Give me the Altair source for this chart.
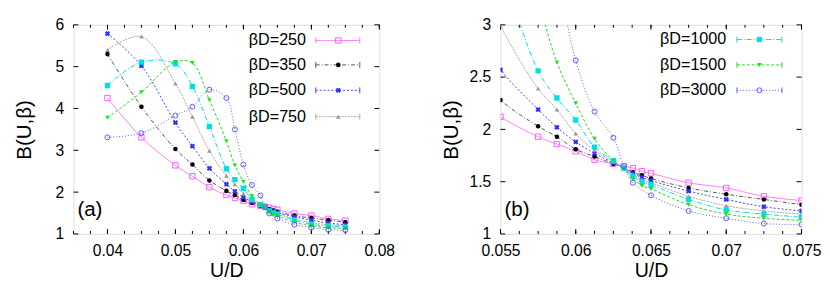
import altair as alt
import pandas as pd

# ---------------- data ----------------
U = [0.04, 0.045, 0.05, 0.0525, 0.055, 0.0575, 0.05875, 0.06, 0.06125, 0.0625,
     0.0632, 0.0638, 0.0644, 0.065, 0.0675, 0.07, 0.0725, 0.075]

LABELS = ["βD=250", "βD=350", "βD=500", "βD=750", "βD=1000", "βD=1500", "βD=3000"]

B250 = [4.25, 3.31, 2.64, 2.38, 2.12, 1.93, 1.86, 1.79, 1.71, 1.67,
        1.65, 1.63, 1.60, 1.58, 1.49, 1.44, 1.36, 1.32]
B350 = [5.30, 4.04, 3.03, 2.66, 2.28, 2.03, 1.93, 1.81, 1.74, 1.67,
        1.63, 1.59, 1.56, 1.53, 1.44, 1.38, 1.33, 1.28]
B500 = [5.79, 5.02, 3.66, 3.10, 2.57, 2.19, 2.02, 1.88, 1.77, 1.68,
        1.63, 1.58, 1.54, 1.51, 1.41, 1.33, 1.26, 1.22]
B750 = [5.40, 5.72, 4.60, 3.80, 2.99, 2.39, 2.19, 1.96, 1.80, 1.69,
        1.63, 1.57, 1.52, 1.49, 1.36, 1.27, 1.22, 1.19]
B1000 = [4.55, 5.11, 5.07, 4.53, 3.57, 2.56, 2.30, 2.09, 1.83, 1.70,
         1.63, 1.55, 1.50, 1.47, 1.33, 1.23, 1.19, 1.16]
B1500 = [3.78, 4.39, 5.11, 5.09, 4.20, 3.22, 2.64, 2.25, 1.91, 1.70,
         1.62, 1.53, 1.46, 1.43, 1.28, 1.19, 1.15, 1.13]
B3000 = [3.31, 3.41, 3.83, 4.04, 4.45, 4.25, 3.50, 2.66, 2.17, 1.92,
         1.65, 1.49, None, 1.37, 1.22, 1.15, 1.10, 1.09]

SERIES = [B250, B350, B500, B750, B1000, B1500, B3000]

# tick labels
XA_MAJOR = [0.04, 0.05, 0.06, 0.07, 0.08]
XB_MAJOR = [0.055, 0.06, 0.065, 0.07, 0.075]
YA_MAJOR = [1, 2, 3, 4, 5, 6]
YB_MAJOR = [1, 1.5, 2, 2.5, 3]

# ---------------- styles ----------------
COLORS = ["#ff5cff", "#000000", "#3030ff", "#9a9a9a", "#00e0e0", "#22dd22", "#5a5aff"]
LINECOL = ["#ff70ff", "#555555", "#4040ff", "#a8a8a8", "#00dede", "#22dd22", "#5a5aff"]
DASHES = [[1, 0], [4, 2, 1, 2], [2, 2], [2, 1], [5, 2, 1, 2], [3, 2], [1, 2]]
SHAPES = ["square", "circle", "cross", "triangle-up", "square", "triangle-down", "circle"]
FILLED = [False, True, True, True, True, True, False]
SIZES = [30, 22, 30, 22, 30, 22, 26]
ANGLES = [0, 0, 45, 0, 0, 0, 0]

FONT = "Liberation Sans"

rows = []
for lab, vals in zip(LABELS, SERIES):
    for u, b in zip(U, vals):
        if b is not None:
            rows.append({"U": u, "B": b, "s": lab})
df = pd.DataFrame(rows)


def panel(W, H, xdom, ydom, xmaj, xminor, ymaj, legend_ids, leg_text_x, leg_line,
          leg_rows, tag, ytp):
    xs = alt.Scale(domain=xdom, nice=False, zero=False)
    ys = alt.Scale(domain=ydom, nice=False, zero=False)
    xax = alt.Axis(values=xmaj, format="~g", title="U/D", ticks=False, domain=False,
                   grid=False, labelFontSize=16, labelPadding=9, labelFont=FONT,
                   titleFont=FONT, titleFontSize=20, titleFontWeight="normal",
                   titlePadding=3, labelColor="black", titleColor="black",
                   labelFlush=False)
    yax = alt.Axis(values=ymaj, format="~g", title="B(U,β)", ticks=False, domain=False,
                   grid=False, labelFontSize=16, labelPadding=10, labelFont=FONT,
                   titleFont=FONT, titleFontSize=21, titleFontWeight="normal",
                   titlePadding=ytp, labelColor="black", titleColor="black",
                   labelFlush=False)
    X = alt.X("U:Q", scale=xs, axis=xax)
    Y = alt.Y("B:Q", scale=ys, axis=yax)
    layers = []

    # inward ticks
    tmaj = pd.DataFrame({"U": xmaj})
    tmin = pd.DataFrame({"U": xminor})
    for d, ln in ((tmaj, 5), (tmin, 3)):
        layers.append(alt.Chart(d).mark_rule(color="black", strokeWidth=1).encode(
            x=X, y=alt.value(H), y2=alt.value(H - ln)))
        layers.append(alt.Chart(d).mark_rule(color="black", strokeWidth=1).encode(
            x=X, y=alt.value(0), y2=alt.value(ln)))
    ty = pd.DataFrame({"B": ymaj})
    layers.append(alt.Chart(ty).mark_rule(color="black", strokeWidth=1).encode(
        y=Y, x=alt.value(0), x2=alt.value(5)))
    layers.append(alt.Chart(ty).mark_rule(color="black", strokeWidth=1).encode(
        y=Y, x=alt.value(W), x2=alt.value(W - 5)))

    # series
    for i, lab in enumerate(LABELS):
        d = df[df.s == lab]
        layers.append(alt.Chart(d).mark_line(
            color=LINECOL[i], strokeWidth=1, strokeDash=DASHES[i],
            interpolate="catmull-rom", clip=True).encode(x=X, y=Y))
        layers.append(alt.Chart(d).mark_point(
            shape=SHAPES[i], filled=FILLED[i], size=SIZES[i], color=COLORS[i],
            angle=ANGLES[i], strokeWidth=1, opacity=1, clip=True).encode(x=X, y=Y))

    # legend
    one = pd.DataFrame({"a": [0]})
    for r, i in enumerate(legend_ids):
        yy = leg_rows[r]
        layers.append(alt.Chart(one).mark_text(
            text=LABELS[i], align="right", baseline="middle", font=FONT, fontSize=16.5,
            color="black").encode(x=alt.value(leg_text_x), y=alt.value(yy)))
        layers.append(alt.Chart(one).mark_rule(
            color=LINECOL[i], strokeWidth=1, strokeDash=DASHES[i]).encode(
            x=alt.value(leg_line[0]), x2=alt.value(leg_line[2]), y=alt.value(yy)))
        for xe in (leg_line[0], leg_line[2]):
            layers.append(alt.Chart(one).mark_rule(color=LINECOL[i], strokeWidth=1).encode(
                x=alt.value(xe), y=alt.value(yy - 3), y2=alt.value(yy + 3)))
        layers.append(alt.Chart(one).mark_point(
            shape=SHAPES[i], filled=FILLED[i], size=SIZES[i], color=COLORS[i],
            angle=ANGLES[i], strokeWidth=1, opacity=1).encode(
            x=alt.value(leg_line[1]), y=alt.value(yy)))

    layers.append(alt.Chart(one).mark_text(
        text=tag, align="left", baseline="middle", font=FONT, fontSize=21,
        color="black").encode(x=alt.value(4), y=alt.value(H - 24)))

    return alt.layer(*layers).properties(width=W, height=H)


xa_minor = [round(0.035 + 0.0025 * k, 5) for k in range(19)]
xb_minor = [round(0.055 + 0.00125 * k, 6) for k in range(17)]

pa = panel(313, 214, [0.035, 0.08], [1, 6], XA_MAJOR, xa_minor, YA_MAJOR,
           [0, 1, 2, 3], 238, (248, 271, 293), [16, 41, 67, 94], "(a)", 21)
pb = panel(308, 214, [0.055, 0.075], [1, 3], XB_MAJOR, xb_minor, YB_MAJOR,
           [4, 5, 6], 231, (242, 265, 288), [15, 41, 67], "(b)", 8)

chart = alt.hconcat(pa, pb, spacing=45).resolve_scale(x="independent", y="independent").properties(
    padding={"left": 5, "top": 5, "right": 0, "bottom": 0}
).configure_view(stroke="black", strokeWidth=1).configure(background="white")

chart.save("out.html", embed_options={"renderer": "svg", "actions": False})
